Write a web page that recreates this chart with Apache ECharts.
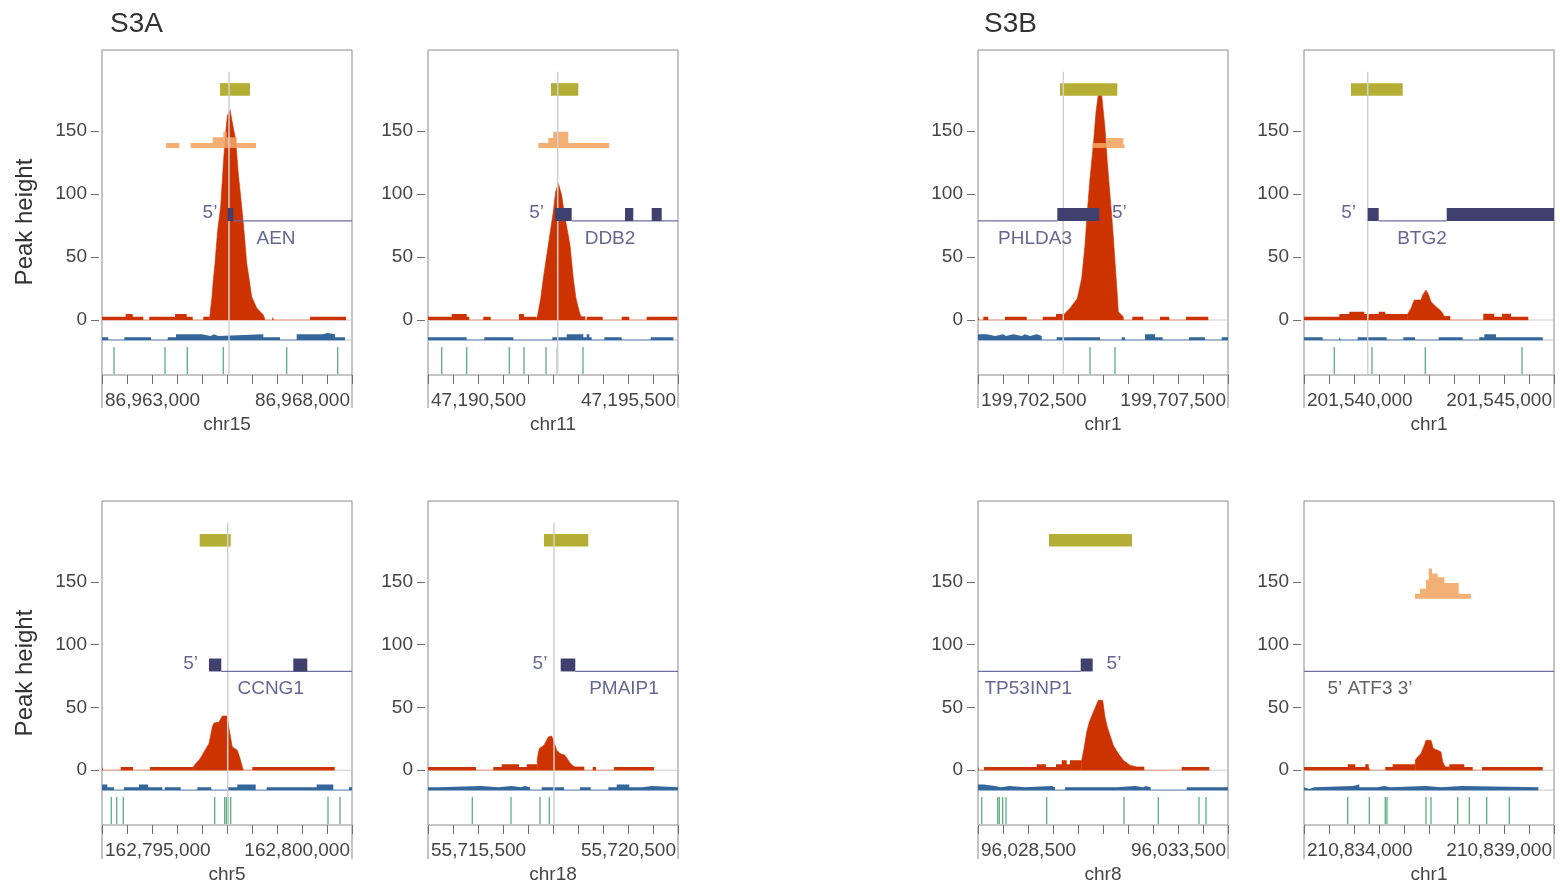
<!DOCTYPE html>
<html><head><meta charset="utf-8">
<script src="https://cdn.jsdelivr.net/npm/echarts@6/dist/echarts.min.js"></script>
<style>html,body{margin:0;padding:0;background:#fff}#c{width:1560px;height:885px}</style>
</head><body><div id="c"></div>
<script>
// ---------------- DATA ----------------
const geneNames   = ['AEN','DDB2','PHLDA3','BTG2','CCNG1','PMAIP1','TP53INP1','ATF3'];
const chromosomes = ['chr15','chr11','chr1','chr1','chr5','chr18','chr8','chr1'];
const windowStarts = [86963000, 47190500, 199702500, 201540000, 162795000, 55715500, 96028500, 210834000];
const windowSpan = 5000;     // bp shown in each panel
const tickStep = 500;        // bp between x ticks
const yTicks = [0, 50, 100, 150];
const panelTitles = ['S3A', 'S3B'];
const yTitle = 'Peak height';

// positions below are bp from each window start
const tssPositions = [2540, 2594, 1706, 1274, 2514, 2520, null, null];
const goldBars = [[2360,2960],[2460,3006],[1640,2786],[940,1974],[1954,2574],[2320,3206],[1420,3080],null];
const geneLines = [[2630,5000],[2874,5000],[0,1586],[1494,2854],[2386,5000],[2946,5000],[0,2054],[0,5000]];
const geneExons = [
  [[2514,2626]],
  [[2540,2874],[3940,4106],[4474,4674]],
  [[1586,2426]],
  [[1274,1494],[2854,5000]],
  [[2140,2386],[3826,4106]],
  [[2654,2946]],
  [[2054,2294]],
  []
];
const fivePrimePos = [2160, 2174, 2826, 894, 1774, 2240, 2720, null];
const geneLabelPos = [3480, 3640, 1140, 2360, 3374, 3920, 1006, 1320];
const geneLabelText = ['AEN','DDB2','PHLDA3','BTG2','CCNG1','PMAIP1','TP53INP1','5\u2019 ATF3 3\u2019'];

// red signal: background runs [x, height] (height holds until next x) and peak outline [x, height]
const aenRed    = [[0,2.6],[474,4.8],[614,2.6],[826,0],[946,2.6],[1460,4.8],[1694,2.6],[1814,0],[2026,2.6],[2146,0],[3406,2.6],[3440,0],[4160,2.6],[4880,0]];
const aenPeak   = [[2146,0],[2160,4],[2174,9.5],[2200,18.5],[2226,31.7],[2260,45],[2314,71.4],[2374,90],[2414,116],[2460,143],[2506,162],[2560,167],[2614,155],[2674,143],[2726,116],[2794,90],[2840,71],[2894,45],[2946,31.7],[2994,18.5],[3094,9.5],[3226,4],[3260,0]];
const ddb2Red   = [[0,2.6],[474,4.8],[774,2.6],[826,0],[1106,2.6],[1254,0],[1820,4.8],[1920,2.6],[2174,0],[3174,2.6],[3494,0],[3874,2.6],[4026,0],[4374,2.6],[4986,0]];
const ddb2Peak  = [[2174,0],[2206,6.6],[2254,17],[2306,33],[2406,59.5],[2506,86],[2554,101.8],[2606,108.5],[2674,99],[2720,86],[2840,59.5],[2906,33],[2960,17],[3026,6.6],[3060,2.6],[3140,2.6],[3140,0]];
const phlda3Red  = [[0,2.6],[26,0],[106,2.6],[206,0],[540,2.6],[974,0],[1294,2.6],[1560,4.8],[1740,0],[3086,2.6],[3306,0],[3640,2.6],[3826,0],[4160,2.6],[4606,0]];
const phlda3Peak = [[1740,0],[1740,5.3],[1840,9.3],[1986,17],[2074,33],[2140,59.5],[2186,86],[2240,112.4],[2306,138.9],[2360,165],[2406,178.6],[2474,178.6],[2494,170.6],[2540,152],[2586,125.6],[2640,99.2],[2694,72.8],[2740,46.3],[2786,19.8],[2806,6.6],[2906,2.6],[2906,0]];
const btg2Red    = [[0,2.6],[706,4.8],[906,6.6],[1206,4.8],[1274,0],[1294,4.8],[1494,6.6],[1626,4.8],[2074,0],[3586,5],[3806,2.6],[3960,5],[4140,2.6],[4486,0]];
const btg2Peak   = [[2074,0],[2074,4.8],[2140,9.3],[2206,15.9],[2340,15.9],[2374,19.8],[2440,23.8],[2494,19.8],[2540,14.5],[2640,10.6],[2720,7.9],[2774,5.3],[2800,3],[2920,3],[2920,0]];
const ccng1Red   = [[0,2.6],[26,0],[374,2.6],[620,0],[960,2.6],[1826,0],[3006,2.6],[4654,0]];
const ccng1Peak  = [[1826,0],[1826,2.6],[1874,5.3],[1940,7.9],[1986,10.6],[2040,14.5],[2140,21.2],[2174,27.8],[2206,34.4],[2240,37.6],[2340,38.3],[2406,43.1],[2506,43.1],[2540,33.1],[2606,18.5],[2706,15.9],[2760,9.3],[2826,0]];
const pmaip1Red  = [[0,2.6],[960,0],[1306,2.6],[1474,4.8],[1820,2.6],[1974,4.8],[2186,0],[3294,2.6],[3360,0],[3720,2.6],[4520,0]];
const pmaip1Peak = [[2186,0],[2186,9.3],[2226,17.2],[2320,19.8],[2406,26.5],[2474,27.2],[2520,22.5],[2574,15.9],[2640,13.2],[2740,11.9],[2826,6.6],[2880,4],[2940,2.6],[3120,2.6],[3120,0]];
const tp53inp1Red  = [[0,2.6],[26,0],[120,2.6],[1174,4.8],[1360,2.6],[1560,4.8],[1674,7.9],[1774,4.8],[1840,7.9],[2074,0],[4074,2.6],[4626,0]];
const tp53inp1Peak = [[2074,0],[2074,7.9],[2120,17.2],[2174,30.4],[2226,38.3],[2320,47.6],[2406,55.6],[2494,55.6],[2540,42.3],[2586,34.4],[2640,27.8],[2706,19.8],[2806,13.2],[2906,7.9],[3040,4],[3174,2.6],[3320,2.6],[3320,0]];
const atf3Red    = [[0,2.6],[874,4.8],[1026,2.6],[1226,4.8],[1294,2.6],[1320,0],[1626,2.6],[1774,4.8],[2226,0],[2906,4.8],[3206,2.6],[3374,0],[3560,2.6],[4774,0]];
const atf3Peak   = [[2226,0],[2226,7.9],[2274,10.6],[2340,13.2],[2406,19.8],[2440,23.8],[2540,23.8],[2586,17.2],[2674,15.9],[2740,14.5],[2774,6.6],[2826,2.6],[2906,2.6],[2906,0]];

// orange track runs [x, height above its base]
const aenOrange    = [[1280,4],[1546,0],[1774,4],[2214,8.5],[2426,13],[2494,8.5],[2694,4],[3080,0]];
const ddb2Orange   = [[2206,4],[2406,8],[2506,13],[2806,4],[3626,0]];
const phlda3Orange = [[2286,4],[2574,8],[2906,4],[2940,0]];
const atf3Orange   = [[2220,4],[2320,8],[2440,15],[2494,24],[2560,20],[2674,17],[2806,12.5],[3094,4],[3340,0]];

// blue track runs [x, height above its base]
const aenBlue    = [[0,2.2],[126,0],[446,2.2],[980,0],[1314,2.2],[1480,4.5],[1994,3.2],[2174,4.5],[2240,3.2],[2326,4.5],[3226,2.2],[3560,0],[3894,4.5],[4426,5.5],[4506,4.5],[4660,2.2],[4860,0]];
const ddb2Blue   = [[0,2.2],[774,0],[1126,2.2],[1706,0],[2486,2.2],[2774,4.5],[3106,2.2],[3174,4.5],[3226,2.2],[3274,0],[3526,2.2],[3874,0],[4454,2.2],[4906,0]];
const phlda3Blue = [[0,4.5],[174,3.2],[340,4.5],[506,3.2],[560,4.5],[706,3.2],[874,4.5],[940,3.2],[1040,4.5],[1174,3.2],[1274,0],[1574,2.2],[2440,0],[2874,2.2],[2940,0],[3340,4.5],[3540,2.2],[3694,0],[4220,2.2],[4540,0],[4874,2.2],[5000,0]];
const btg2Blue   = [[0,2.2],[374,0],[706,2.2],[746,0],[1074,2.2],[1654,0],[1986,2.2],[2220,0],[2694,2.2],[3174,0],[3506,2.2],[3606,4.5],[3840,2.2],[4774,0]];
const ccng1Blue  = [[0,4.5],[106,2.2],[240,0],[440,2.2],[740,4.5],[920,2.2],[1206,0],[1254,2.2],[1574,0],[1906,2.2],[2186,0],[2520,2.2],[2706,4.5],[3074,0],[3294,2.2],[4294,4.5],[4626,0],[4940,2.2],[5000,0]];
const pmaip1Blue = [[0,2.2],[206,3.2],[1054,2.2],[1406,3.2],[1674,2.2],[1854,3.2],[1940,2.2],[2040,0],[2274,2.2],[2720,0],[3040,2.2],[3254,0],[3606,2.2],[3774,4.5],[4026,2.2],[4294,3.2],[4474,2.2],[5000,0]];
const tp53inp1Blue = [[0,4.5],[120,3.2],[340,2.2],[454,3.2],[640,2.2],[940,3.2],[1474,2.2],[1540,0],[1740,2.2],[2774,3.2],[3140,2.2],[3306,3.2],[3354,2.2],[3454,0],[4174,2.2],[5000,0]];
const atf3Blue   = [[0,2.2],[26,0.8],[106,2.2],[206,3.2],[974,4.5],[1106,2.2],[1474,3.2],[1606,2.2],[1720,3.2],[2440,2.2],[2740,3.2],[3154,2.2],[4686,0]];

// green feature ticks (x positions)
const aenGreen    = [240, 1260, 1706, 2426, 3694, 4714];
const ddb2Green   = [274, 774, 1626, 1920, 2360, 2586, 3100];
const phlda3Green = [2240, 2740];
const btg2Green   = [606, 1360, 2426, 4360];
const ccng1Green  = [186, 294, 426, 2254, 2454, 2486, 2520, 2574, 4520, 4760];
const pmaip1Green = [886, 1660, 2240, 2426];
const tp53inp1Green = [74, 394, 426, 494, 560, 1374, 2920, 3606, 4420, 4560];
const atf3Green   = [874, 1306, 1626, 1660, 2440, 2540, 3074, 3306, 3654, 4106];

const redRuns   = [aenRed, ddb2Red, phlda3Red, btg2Red, ccng1Red, pmaip1Red, tp53inp1Red, atf3Red];
const redPeaks  = [aenPeak, ddb2Peak, phlda3Peak, btg2Peak, ccng1Peak, pmaip1Peak, tp53inp1Peak, atf3Peak];
const orangeRuns = [aenOrange, ddb2Orange, phlda3Orange, null, null, null, null, atf3Orange];
const blueRuns  = [aenBlue, ddb2Blue, phlda3Blue, btg2Blue, ccng1Blue, pmaip1Blue, tp53inp1Blue, atf3Blue];
const greenTicks = [aenGreen, ddb2Green, phlda3Green, btg2Green, ccng1Green, pmaip1Green, tp53inp1Green, atf3Green];

// ---------------- LAYOUT / STYLE ----------------
const panelLeft = [102, 428, 978, 1304];
const panelTop = [50, 501];
const panelW = 250, panelH = 325;
const Y_MIN = -43.65, Y_MAX = 214.3;
const LV = {blueBase:-15.87, greenTop:-21.4, greenBottom:-42.9, goldLow:178, goldHigh:188,
            geneLine:78.6, exonTop:88.9, orangeBase:136.5, labelY:64.8, fiveY:85, tssTop:197};
const FONT = "'Liberation Sans', Arial, Helvetica, sans-serif";
const RED='#cc3300', ORANGE='#f2a462', BLUE='#33679b', GOLD='#b4ae35', EXON='#40406e',
      GENELINE='#6e6ea2', GREEN='#3f9f69', ZERO='#cdcdcd', TEXT='#454545', GENETEXT='#3f3f78';

const grids=[], xAxes=[], yAxes=[], series=[], graphics=[];

function plainLine(i, data, color, width, z){
  return {type:'line', xAxisIndex:i, yAxisIndex:i, data, symbol:'none', silent:true, z,
          lineStyle:{color, width}, animation:false};
}
function stepArea(i, data, color, origin, z, opacity){
  return {type:'line', xAxisIndex:i, yAxisIndex:i, data, step:'end', symbol:'none', silent:true, z,
          lineStyle:{width:0, color}, areaStyle:{color, opacity: opacity==null?1:opacity, origin}, animation:false};
}
function rectSeries(i, rects, color, z){
  return {type:'custom', xAxisIndex:i, yAxisIndex:i, silent:true, z, data:rects,
    encode:{x:[0,1], y:[2,3]},
    renderItem:(p, api)=>{
      const a = api.coord([api.value(0), api.value(3)]);
      const b = api.coord([api.value(1), api.value(2)]);
      return {type:'rect', shape:{x:a[0], y:a[1], width:b[0]-a[0], height:b[1]-a[1]}, style:{fill:color}};
    }};
}

for (let i=0;i<8;i++){
  const col=i%4, row=Math.floor(i/4);
  const left=panelLeft[col], top=panelTop[row];
  const s=windowStarts[i], e=s+windowSpan;
  const X = x => s + x;

  grids.push({left, top, width:panelW, height:panelH, show:true, borderColor:'#8a8a8a', borderWidth:1,
              backgroundColor:'rgba(0,0,0,0)'});
  xAxes.push({type:'value', gridIndex:i, min:s, max:e, interval:tickStep, position:'bottom',
    axisLine:{show:false, onZero:false}, axisTick:{show:true, inside:false, length:9, lineStyle:{color:'#707070'}},
    axisLabel:{show:true, margin:16, color:TEXT, fontSize:19, fontFamily:FONT, padding:[0,2,0,3],
      showMinLabel:true, showMaxLabel:true, alignMinLabel:'left', alignMaxLabel:'right', hideOverlap:false,
      formatter: v => (v===s || v===e) ? Math.round(v).toLocaleString('en-US') : ''},
    splitLine:{show:false},
    name:chromosomes[i], nameLocation:'middle', nameGap:40,
    nameTextStyle:{color:TEXT, fontSize:19, fontFamily:FONT}});
  yAxes.push({type:'value', gridIndex:i, min:Y_MIN, max:Y_MAX, offset:3,
    axisLine:{show:false, onZero:false},
    axisTick:{show:true, length:8, customValues:yTicks, lineStyle:{color:'#707070'}},
    axisLabel:{show:true, margin:12, customValues:yTicks, color:TEXT, fontSize:19, fontFamily:FONT},
    splitLine:{show:false}});

  // guide lines
  series.push(plainLine(i, [[s,0],[e,0]], ZERO, 1, 1));
  series.push(plainLine(i, [[s,LV.blueBase],[e,LV.blueBase]], '#c4c4c4', 1, 1));

  // red signal
  const rr = redRuns[i], pk = redPeaks[i];
  const rStart = Math.min(rr[0][0], pk[0][0]);
  const rEnd = Math.max(rr[rr.length-1][0], pk[pk.length-1][0]);
  series.push(plainLine(i, [[X(rStart),0],[X(rEnd),0]], '#ee9c80', 1, 2));
  series.push(stepArea(i, rr.map(p=>[X(p[0]), p[1]]), RED, 'auto', 3));
  series.push({type:'line', xAxisIndex:i, yAxisIndex:i, symbol:'none', silent:true, z:3, animation:false,
    data: pk.map(p=>[X(p[0]), p[1]]), lineStyle:{width:0.6, color:RED}, areaStyle:{color:RED, opacity:1}});

  // orange track
  if (orangeRuns[i]) {
    series.push(stepArea(i, orangeRuns[i].map(p=>[X(p[0]), LV.orangeBase + p[1]]), ORANGE, LV.orangeBase, 4, 0.88));
  }

  // blue track
  const bb = blueRuns[i];
  series.push(plainLine(i, [[X(bb[0][0]),LV.blueBase],[X(bb[bb.length-1][0]),LV.blueBase]], '#6590bf', 1, 2));
  series.push(stepArea(i, bb.map(p=>[X(p[0]), LV.blueBase + p[1]]), BLUE, LV.blueBase, 3));

  // green ticks
  series.push({type:'custom', xAxisIndex:i, yAxisIndex:i, silent:true, z:3,
    data: greenTicks[i].map(x=>[X(x), LV.greenTop, LV.greenBottom]),
    encode:{x:0, y:[1,2]},
    renderItem:(p, api)=>{
      const a = api.coord([api.value(0), api.value(1)]);
      const b = api.coord([api.value(0), api.value(2)]);
      return {type:'line', shape:{x1:a[0], y1:a[1], x2:b[0], y2:b[1]}, style:{stroke:GREEN, lineWidth:1.3, opacity:0.85}};
    }});

  // gold bar
  if (goldBars[i]) series.push(rectSeries(i, [[X(goldBars[i][0]), X(goldBars[i][1]), LV.goldLow, LV.goldHigh]], GOLD, 5));

  // TSS line
  if (tssPositions[i] != null) {
    series.push(plainLine(i, [[X(tssPositions[i]), Y_MIN],[X(tssPositions[i]), LV.tssTop]], '#d0d0d0', 1.5, 6));
  }

  // gene model
  series.push(plainLine(i, [[X(geneLines[i][0]), LV.geneLine],[X(geneLines[i][1]), LV.geneLine]], GENELINE, 1.2, 7));
  if (geneExons[i].length) series.push(rectSeries(i, geneExons[i].map(r=>[X(r[0]), X(r[1]), LV.geneLine, LV.exonTop]), EXON, 8));

  // labels
  const lab = [{value:[X(geneLabelPos[i]), LV.labelY], label:{formatter:geneLabelText[i], color: i===7 ? '#3a3a3a' : GENETEXT}}];
  if (fivePrimePos[i] != null) lab.push({value:[X(fivePrimePos[i]), LV.fiveY], label:{formatter:'5\u2019', color:GENETEXT}});
  series.push({type:'scatter', xAxisIndex:i, yAxisIndex:i, silent:true, z:9, symbolSize:1,
    itemStyle:{color:'rgba(0,0,0,0)'}, data:lab,
    label:{show:true, position:'inside', fontSize:19, fontFamily:FONT}});

  // box sides extending below the frame
  [left, left+panelW].forEach(x=>{
    graphics.push({type:'line', silent:true, shape:{x1:x, y1:top+panelH, x2:x, y2:top+panelH+33},
      style:{stroke:'#8a8a8a', lineWidth:1}});
  });
}

graphics.push({type:'text', x:110, y:24, silent:true,
  style:{text:panelTitles[0], font:`28px ${FONT}`, fill:'#333', textAlign:'left', textVerticalAlign:'middle'}});
graphics.push({type:'text', x:984, y:24, silent:true,
  style:{text:panelTitles[1], font:`28px ${FONT}`, fill:'#333', textAlign:'left', textVerticalAlign:'middle'}});
[222, 673].forEach(cy=>{
  graphics.push({type:'text', x:25, y:cy, rotation:Math.PI/2, silent:true,
    style:{text:yTitle, font:`24px ${FONT}`, fill:'#333', textAlign:'center', textVerticalAlign:'middle'}});
});

const chart = echarts.init(document.getElementById('c'), null, {renderer:'canvas'});
chart.setOption({animation:false, backgroundColor:'#ffffff', grid:grids, xAxis:xAxes, yAxis:yAxes, series, graphic:graphics});
</script></body></html>
